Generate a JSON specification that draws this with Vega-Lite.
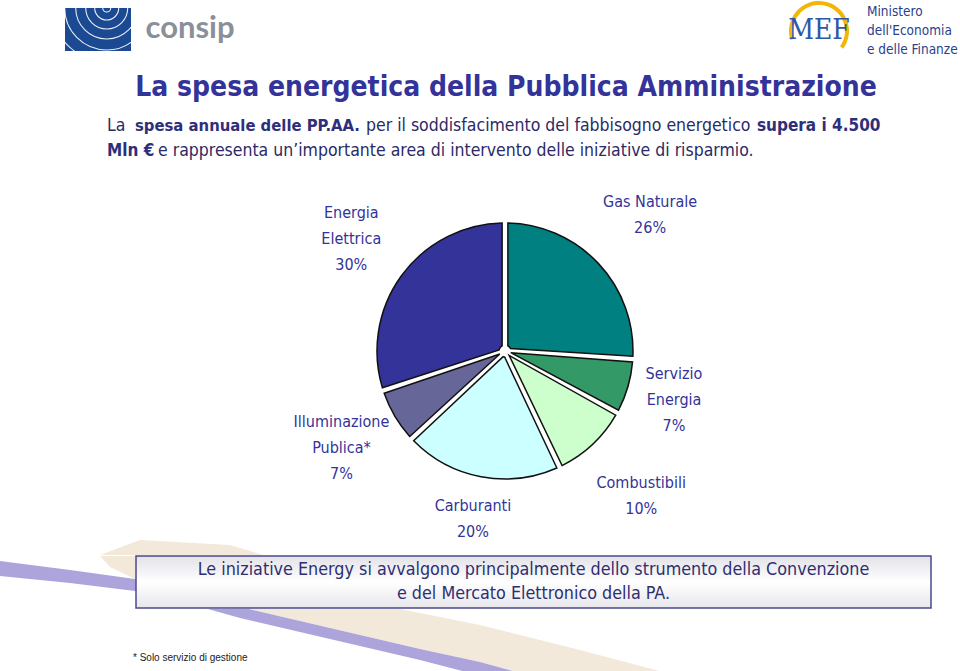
{
  "$schema": "https://vega.github.io/schema/vega-lite/v6.json",
  "padding": 0,
  "background": "white",
  "data": {"values": [{}]},
  "config": {
    "view": {"stroke": null},
    "concat": {"spacing": 0},
    "text": {"font": "DejaVu Sans Condensed"}
  },
  "spacing": 0,
  "bounds": "full",
  "vconcat": [
    {
      "spacing": 0,
      "bounds": "flush",
      "hconcat": [
        {"width": 65, "height": 62, "mark": {"type": "text", "text": ""}},
        {
          "width": 66,
          "height": 62,
          "layer": [
            {"mark": {"type": "point", "shape": "M -1 -0.697 H 1 V 0.606 H -1 Z", "size": 4356, "filled": true, "color": "#1B4A92", "opacity": 1, "strokeWidth": 0}},
            {"mark": {"type": "point", "clip": true, "filled": false, "stroke": "#FFFFFF", "strokeWidth": 1.1, "opacity": 0.9, "size": 4356, "shape": "M 0.385 -0.697 A 0.121 0.121 0 1 0 0.143 -0.697 A 0.121 0.121 0 1 0 0.385 -0.697 M 0.628 -0.697 A 0.364 0.364 0 1 0 -0.1 -0.697 A 0.364 0.364 0 1 0 0.628 -0.697 M 0.9 -0.697 A 0.636 0.636 0 1 0 -0.372 -0.697 A 0.636 0.636 0 1 0 0.9 -0.697 M 1.203 -0.697 A 0.939 0.939 0 1 0 -0.675 -0.697 A 0.939 0.939 0 1 0 1.203 -0.697 M 1.537 -0.697 A 1.273 1.273 0 1 0 -1.009 -0.697 A 1.273 1.273 0 1 0 1.537 -0.697 M 1.9 -0.697 A 1.636 1.636 0 1 0 -1.372 -0.697 A 1.636 1.636 0 1 0 1.9 -0.697"}}
          ]
        },
        {"width": 12, "height": 62, "mark": {"type": "text", "text": ""}},
        {"width": 94, "height": 57, "mark": {"type": "text", "text": "consip", "font": "Lato", "fontWeight": "bold", "fontSize": 31, "color": "#8A9099"}},
        {"width": 550, "height": 62, "mark": {"type": "text", "text": ""}},
        {
          "width": 64,
          "height": 62,
          "layer": [
            {"mark": {"type": "arc", "theta": -1.87, "theta2": 2.2, "outerRadius": 30, "innerRadius": 26, "color": "#F2B705"}, "encoding": {}},
            {"mark": {"type": "text", "text": "MEF", "font": "DejaVu Serif Condensed", "fontSize": 28, "color": "#2E58A6"}}
          ]
        },
        {"width": 15, "height": 62, "mark": {"type": "text", "text": ""}},
        {
          "width": 2,
          "height": 62,
          "layer": [
            {"mark": {"type": "text", "text": "Ministero", "align": "left", "dy": -19, "fontSize": 13.5, "color": "#2B3F8C"}},
            {"mark": {"type": "text", "text": "dell'Economia", "align": "left", "fontSize": 13.5, "color": "#2B3F8C"}},
            {"mark": {"type": "text", "text": "e delle Finanze", "align": "left", "dy": 19, "fontSize": 13.5, "color": "#2B3F8C"}}
          ]
        }
      ]
    },
    {
      "spacing": 0,
      "bounds": "flush",
      "hconcat": [
        {"width": 58, "height": 52, "mark": {"type": "text", "text": ""}},
        {"width": 896, "height": 52, "mark": {"type": "text", "text": "La spesa energetica della Pubblica Amministrazione", "fontSize": 28, "fontWeight": "bold", "color": "#333399"}}
      ]
    },
    {
      "spacing": 0,
      "bounds": "flush",
      "hconcat": [
        {"width": 106, "height": 24, "mark": {"type": "text", "text": ""}},
        {"width": 2, "height": 24, "mark": {"type": "text", "text": "La", "align": "left", "fontSize": 17.5, "color": "#2A2A66"}},
        {"width": 26, "height": 24, "mark": {"type": "text", "text": ""}},
        {"width": 2, "height": 24, "mark": {"type": "text", "text": "spesa annuale delle PP.AA.", "align": "left", "fontSize": 16.5, "fontWeight": "bold", "color": "#2E2E7A"}},
        {"width": 229, "height": 24, "mark": {"type": "text", "text": ""}},
        {"width": 2, "height": 24, "mark": {"type": "text", "text": "per il soddisfacimento del fabbisogno energetico", "align": "left", "fontSize": 17.5, "color": "#2A2A66"}},
        {"width": 389, "height": 24, "mark": {"type": "text", "text": ""}},
        {"width": 2, "height": 24, "mark": {"type": "text", "text": "supera i 4.500", "align": "left", "fontSize": 17, "fontWeight": "bold", "color": "#2E2E7A"}}
      ]
    },
    {
      "spacing": 0,
      "bounds": "flush",
      "hconcat": [
        {"width": 106, "height": 26, "mark": {"type": "text", "text": ""}},
        {"width": 2, "height": 26, "mark": {"type": "text", "text": "Mln €", "align": "left", "fontSize": 17, "fontWeight": "bold", "color": "#2E2E7A"}},
        {"width": 49, "height": 26, "mark": {"type": "text", "text": ""}},
        {"width": 2, "height": 26, "mark": {"type": "text", "text": "e rappresenta un’importante area di intervento delle iniziative di risparmio.", "align": "left", "fontSize": 17.5, "color": "#2A2A66"}}
      ]
    },
    {
      "spacing": 0,
      "bounds": "flush",
      "hconcat": [
        {"width": 105, "height": 374, "mark": {"type": "text", "text": ""}},
        {
          "width": 800,
          "height": 374,
          "data": {
            "values": [
              {"categoria": "Gas Naturale", "etichetta": "Gas Naturale", "quota": 26, "ordine": 1},
              {"categoria": "Servizio Energia", "etichetta": "Servizio\nEnergia", "quota": 7, "ordine": 2},
              {"categoria": "Combustibili", "etichetta": "Combustibili", "quota": 10, "ordine": 3},
              {"categoria": "Carburanti", "etichetta": "Carburanti", "quota": 20, "ordine": 4},
              {"categoria": "Illuminazione Publica*", "etichetta": "Illuminazione\nPublica*", "quota": 7, "ordine": 5},
              {"categoria": "Energia Elettrica", "etichetta": "Energia\nElettrica", "quota": 30, "ordine": 6}
            ]
          },
          "layer": [
            {
              "mark": {"type": "arc", "outerRadius": 128, "innerRadius": 6, "padAngle": 0.045, "stroke": "#111111", "strokeWidth": 1.5},
              "encoding": {
                "theta": {"field": "quota", "type": "quantitative", "stack": true, "scale": {"domain": [0, 100]}},
                "order": {"field": "ordine", "type": "quantitative"},
                "color": {
                  "field": "categoria",
                  "type": "nominal",
                  "legend": null,
                  "scale": {
                    "domain": ["Gas Naturale", "Servizio Energia", "Combustibili", "Carburanti", "Illuminazione Publica*", "Energia Elettrica"],
                    "range": ["#008080", "#339966", "#CCFFCC", "#CCFFFF", "#666699", "#333399"]
                  }
                }
              }
            },
            {
              "transform": [
                {"stack": "quota", "groupby": [], "sort": [{"field": "ordine", "order": "ascending"}], "as": ["q0", "q1"]},
                {"calculate": "(datum.q0 + datum.q1) / 2", "as": "qm"},
                {"calculate": "datum.etichetta + '\\n' + datum.quota + '%'", "as": "testo"},
                {"filter": {"field": "categoria", "oneOf": ["Gas Naturale", "Combustibili"]}}
              ],
              "mark": {"type": "text", "radius": 199, "dy": -13, "lineBreak": "\n", "fontSize": 16, "lineHeight": 26, "color": "#333399"},
              "encoding": {
                "theta": {"field": "qm", "type": "quantitative", "stack": null, "scale": {"domain": [0, 100]}},
                "text": {"field": "testo"}
              }
            },
            {
              "transform": [
                {"stack": "quota", "groupby": [], "sort": [{"field": "ordine", "order": "ascending"}], "as": ["q0", "q1"]},
                {"calculate": "(datum.q0 + datum.q1) / 2", "as": "qm"},
                {"calculate": "datum.etichetta + '\\n' + datum.quota + '%'", "as": "testo"},
                {"filter": {"field": "categoria", "oneOf": ["Carburanti"]}}
              ],
              "mark": {"type": "text", "radius": 171, "dy": -13, "lineBreak": "\n", "fontSize": 16, "lineHeight": 26, "color": "#333399"},
              "encoding": {
                "theta": {"field": "qm", "type": "quantitative", "stack": null, "scale": {"domain": [0, 100]}},
                "text": {"field": "testo"}
              }
            },
            {
              "transform": [
                {"stack": "quota", "groupby": [], "sort": [{"field": "ordine", "order": "ascending"}], "as": ["q0", "q1"]},
                {"calculate": "(datum.q0 + datum.q1) / 2", "as": "qm"},
                {"calculate": "datum.etichetta + '\\n' + datum.quota + '%'", "as": "testo"},
                {"filter": {"field": "categoria", "oneOf": ["Servizio Energia"]}}
              ],
              "mark": {"type": "text", "radius": 176, "dy": -26, "lineBreak": "\n", "fontSize": 16, "lineHeight": 26, "color": "#333399"},
              "encoding": {
                "theta": {"field": "qm", "type": "quantitative", "stack": null, "scale": {"domain": [0, 100]}},
                "text": {"field": "testo"}
              }
            },
            {
              "transform": [
                {"stack": "quota", "groupby": [], "sort": [{"field": "ordine", "order": "ascending"}], "as": ["q0", "q1"]},
                {"calculate": "(datum.q0 + datum.q1) / 2", "as": "qm"},
                {"calculate": "datum.etichetta + '\\n' + datum.quota + '%'", "as": "testo"},
                {"filter": {"field": "categoria", "oneOf": ["Illuminazione Publica*", "Energia Elettrica"]}}
              ],
              "mark": {"type": "text", "radius": 190, "dy": -26, "lineBreak": "\n", "fontSize": 16, "lineHeight": 26, "color": "#333399"},
              "encoding": {
                "theta": {"field": "qm", "type": "quantitative", "stack": null, "scale": {"domain": [0, 100]}},
                "text": {"field": "testo"}
              }
            }
          ]
        }
      ]
    },
    {
      "width": 960,
      "height": 15,
      "mark": {"type": "point", "clip": true, "filled": true, "opacity": 1, "strokeWidth": 0, "size": 4, "color": "#F3E9DA", "shape": "M -340 -7.5 L -250 -2.5 L -150 27.5 L -80 59.5 L 0 75.5 L 100 100.5 L 187 123.5 L 40 123.5 L 0 112.5 L -60 99.5 L -120 85.5 L -180 71.5 L -240 57.5 L -290 43.5 L -345 30.5 L -370 18.5 L -380 7.5 Z"}
    },
    {
      "spacing": 0,
      "bounds": "flush",
      "hconcat": [
        {
          "width": 136,
          "height": 52,
          "layer": [
            {"mark": {"type": "point", "clip": true, "filled": true, "opacity": 1, "strokeWidth": 0, "size": 4, "color": "#F3E9DA", "shape": "M 72 -41 L 162 -36 L 262 -6 L 332 26 L 412 42 L 512 67 L 599 90 L 452 90 L 412 79 L 352 66 L 292 52 L 232 38 L 172 24 L 122 10 L 67 -3 L 42 -15 L 32 -26 Z"}},
            {"mark": {"type": "point", "clip": true, "filled": true, "opacity": 1, "strokeWidth": 0, "size": 4, "color": "#ACA4DB", "shape": "M -68 -21 L 2 -12 L 67 -3 L 122 10 L 172 24 L 232 38 L 292 52 L 352 66 L 412 79 L 452 90 L 402 90 L 352 77 L 292 63 L 232 49 L 172 35 L 122 21 L 67 9 L 2 1 L -68 -6 Z"}}
          ]
        },
        {
          "width": 795,
          "height": 52,
          "layer": [
            {
              "mark": {
                "type": "rect",
                "stroke": "#4A4A8C",
                "strokeWidth": 1.5,
                "fill": {
                  "gradient": "linear",
                  "x1": 0, "y1": 0, "x2": 0, "y2": 1,
                  "stops": [
                    {"offset": 0, "color": "#E2E2E8"},
                    {"offset": 0.5, "color": "#FFFFFF"},
                    {"offset": 1, "color": "#E6E6EC"}
                  ]
                }
              }
            },
            {"mark": {"type": "text", "text": "Le iniziative Energy si avvalgono principalmente dello strumento della Convenzione", "dy": -12, "fontSize": 17.8, "color": "#2E2E70"}},
            {"mark": {"type": "text", "text": "e del Mercato Elettronico della PA.", "dy": 12, "fontSize": 17.8, "color": "#2E2E70"}}
          ]
        }
      ]
    },
    {
      "width": 960,
      "height": 33,
      "layer": [
        {"mark": {"type": "point", "clip": true, "filled": true, "opacity": 1, "strokeWidth": 0, "size": 4, "color": "#F3E9DA", "shape": "M -340 -83.5 L -250 -78.5 L -150 -48.5 L -80 -16.5 L 0 -0.5 L 100 24.5 L 187 47.5 L 40 47.5 L 0 36.5 L -60 23.5 L -120 9.5 L -180 -4.5 L -240 -18.5 L -290 -32.5 L -345 -45.5 L -370 -57.5 L -380 -68.5 Z"}},
        {"mark": {"type": "point", "clip": true, "filled": true, "opacity": 1, "strokeWidth": 0, "size": 4, "color": "#ACA4DB", "shape": "M -480 -63.5 L -410 -54.5 L -345 -45.5 L -290 -32.5 L -240 -18.5 L -180 -4.5 L -120 9.5 L -60 23.5 L 0 36.5 L 40 47.5 L -10 47.5 L -60 34.5 L -120 20.5 L -180 6.5 L -240 -7.5 L -290 -21.5 L -345 -33.5 L -410 -41.5 L -480 -48.5 Z"}}
      ]
    },
    {
      "spacing": 0,
      "bounds": "flush",
      "hconcat": [
        {"width": 132, "height": 31, "mark": {"type": "text", "text": ""}},
        {"width": 2, "height": 31, "mark": {"type": "text", "text": "* Solo servizio di gestione", "align": "left", "font": "Liberation Sans", "fontSize": 10, "color": "#222222"}},
        {
          "width": 826,
          "height": 31,
          "layer": [
            {"mark": {"type": "point", "clip": true, "filled": true, "opacity": 1, "strokeWidth": 0, "size": 4, "color": "#F3E9DA", "shape": "M -407 -115.5 L -317 -110.5 L -217 -80.5 L -147 -48.5 L -67 -32.5 L 33 -7.5 L 120 15.5 L -27 15.5 L -67 4.5 L -127 -8.5 L -187 -22.5 L -247 -36.5 L -307 -50.5 L -357 -64.5 L -412 -77.5 L -437 -89.5 L -447 -100.5 Z"}},
            {"mark": {"type": "point", "clip": true, "filled": true, "opacity": 1, "strokeWidth": 0, "size": 4, "color": "#ACA4DB", "shape": "M -547 -95.5 L -477 -86.5 L -412 -77.5 L -357 -64.5 L -307 -50.5 L -247 -36.5 L -187 -22.5 L -127 -8.5 L -67 4.5 L -27 15.5 L -77 15.5 L -127 2.5 L -187 -11.5 L -247 -25.5 L -307 -39.5 L -357 -53.5 L -412 -65.5 L -477 -73.5 L -547 -80.5 Z"}}
          ]
        }
      ]
    }
  ]
}
